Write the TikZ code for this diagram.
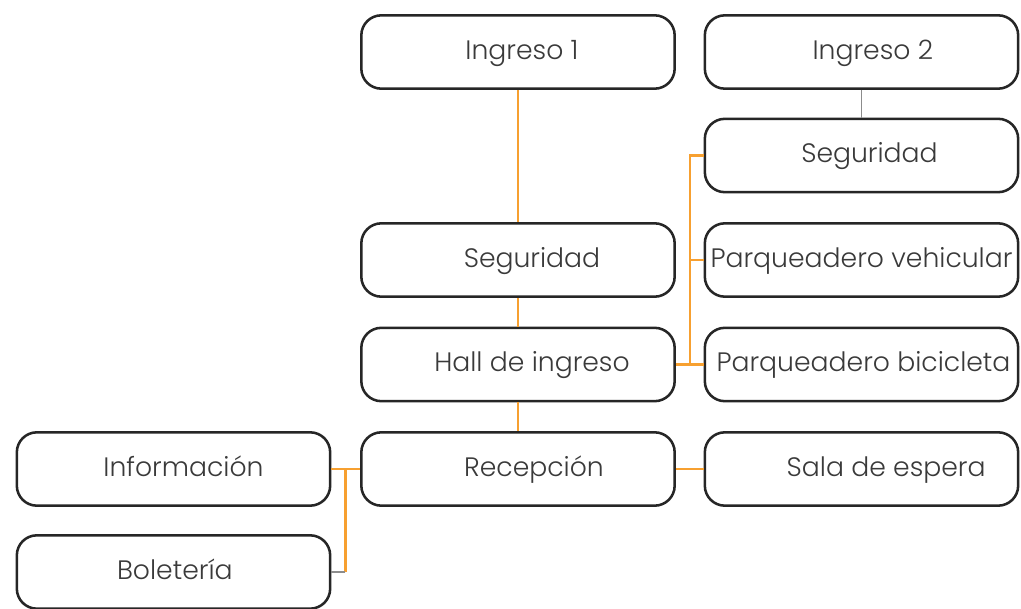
\documentclass[tikz,border=0pt]{standalone}
\usepackage{fontspec}
\setmainfont{Poppins Light}
\usepackage{tikz}
\usetikzlibrary{positioning,calc}
\definecolor{linkorange}{HTML}{F7A030}
\definecolor{linkgray}{HTML}{8C8C8C}
\definecolor{boxline}{HTML}{262626}
\definecolor{boxtext}{HTML}{3A3A3A}

\tikzset{
  area/.style={draw=boxline,line width=1.9pt,rounded corners=15pt,fill=white,
    minimum width=235pt,minimum height=55pt,inner sep=0pt,
    text height=1.07em,text depth=0pt,
    font=\fontsize{20}{24}\selectfont,text=boxtext},
  link/.style={linkorange,line width=1.8pt},
  linkg/.style={linkgray,line width=0.9pt}
}

\begin{document}
\begin{tikzpicture}[x=0.75pt,y=-0.75pt]
  \useasboundingbox (0,0) rectangle (1021,609);
  % Column of the main entrance
  \node[area] (ing1) at (518,52) {\hspace*{6pt}Ingreso 1};
  \node[area] (seg1) at (518,260) {\hspace*{21pt}Seguridad};
  \node[area] (hall) at (518,364.5) {\hspace*{21pt}Hall de ingreso};
  \node[area] (rec) at (518,469) {\hspace*{24pt}Recepción};
  % Column of the second entrance
  \node[area] (ing2) at (861.5,52) {\hspace*{17pt}Ingreso 2};
  \node[area] (seg2) at (861.5,155.5) {\hspace*{12pt}Seguridad};
  \node[area] (pveh) at (861.5,260) {Parqueadero vehicular};
  \node[area] (pbic) at (861.5,364.5) {\hspace*{3pt}Parqueadero bicicleta};
  \node[area] (sala) at (861.5,469) {\hspace*{37pt}Sala de espera};
  % Left column
  \node[area] (info) at (173.5,469) {\hspace*{15pt}Información};
  \node[area] (bol) at (173.5,572) {\hspace*{2pt}Boletería};
  % Bus coordinates
  \coordinate (busr) at ($(hall.east)+(14,0)$);
  \coordinate (busl) at ($(info.east)+(14,0)$);
  % Connectors
  \draw[link] (ing1) -- (seg1);
  \draw[link] (seg1) -- (hall);
  \draw[link] (hall) -- (rec);
  \draw[linkg] (ing2) -- (seg2);
  \draw[link] (hall.east) -- (busr) |- (seg2.west);
  \draw[link] (busr |- pveh.west) -- (pveh.west);
  \draw[link] (busr) -- (pbic.west);
  \draw[link] (rec) -- (sala);
  \draw[link] (info.east) -- (rec.west);
  \draw[link] (busl) -- (busl |- bol.east);
  \draw[linkg] (busl |- bol.east) -- (bol.east);
\end{tikzpicture}
\end{document}
